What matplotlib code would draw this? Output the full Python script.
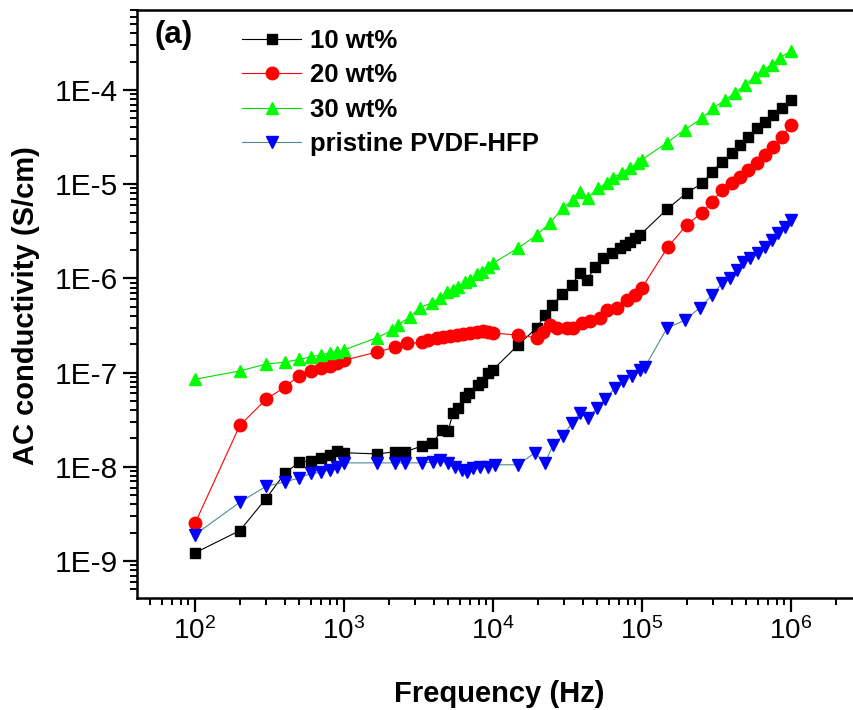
import math
import matplotlib
matplotlib.use("Agg")
import matplotlib.pyplot as plt
from matplotlib.ticker import LogLocator, FuncFormatter, NullFormatter

plt.rcParams['font.family'] = ['Liberation Sans', 'DejaVu Sans']
plt.rcParams['mathtext.fontset'] = 'custom'
plt.rcParams['mathtext.rm'] = 'Liberation Sans'
plt.rcParams['mathtext.it'] = 'Liberation Sans'

# ---------------- data ----------------
f_10 = [100, 200, 300, 400, 500, 600, 700, 800, 900, 1000, 1660, 2200, 2560, 3340, 3900,
        4550, 4990, 5390, 5830, 6490, 6900, 7930, 8440, 9250, 10000, 14700, 19700, 22300,
        24900, 29100, 33900, 38300, 42700, 48400, 54700, 62900, 71100, 76900, 83000, 89800,
        97000, 147000, 200000, 253000, 295000, 345000, 402000, 455000, 514000, 591000,
        670000, 757000, 870000, 1000000]
s_10 = [1.22e-9, 2.1e-9, 4.6e-9, 8.5e-9, 1.12e-8, 1.15e-8, 1.23e-8, 1.34e-8, 1.47e-8, 1.41e-8,
        1.37e-8, 1.44e-8, 1.44e-8, 1.66e-8, 1.77e-8, 2.44e-8, 2.39e-8, 3.7e-8, 4.2e-8, 5.5e-8,
        6.0e-8, 7.4e-8, 7.9e-8, 1.0e-7, 1.07e-7, 1.95e-7, 3.0e-7, 4.1e-7, 5.2e-7, 6.8e-7,
        8.5e-7, 1.15e-6, 9.6e-7, 1.32e-6, 1.66e-6, 1.86e-6, 2.09e-6, 2.24e-6, 2.45e-6, 2.69e-6,
        2.88e-6, 5.4e-6, 8.1e-6, 1.02e-5, 1.35e-5, 1.74e-5, 2.14e-5, 2.62e-5, 3.17e-5, 3.95e-5,
        4.57e-5, 5.4e-5, 6.4e-5, 7.8e-5]

f_20 = [100, 200, 300, 400, 500, 600, 700, 800, 900, 1000, 1660, 2200, 2650, 3340, 3660,
        4210, 4620, 5140, 5740, 6290, 7010, 7820, 8570, 9250, 10000, 14700, 19700, 21700,
        24200, 26900, 31400, 34400, 39600, 44800, 52300, 58200, 67900, 79300, 89800, 99800,
        149000, 200000, 253000, 295000, 345000, 402000, 455000, 514000, 591000, 670000,
        757000, 870000, 1000000]
s_20 = [2.5e-9, 2.75e-8, 5.2e-8, 7.0e-8, 9.3e-8, 1.05e-7, 1.12e-7, 1.18e-7, 1.26e-7, 1.35e-7,
        1.65e-7, 1.86e-7, 2.04e-7, 2.09e-7, 2.22e-7, 2.34e-7, 2.4e-7, 2.45e-7, 2.5e-7, 2.57e-7,
        2.63e-7, 2.69e-7, 2.75e-7, 2.69e-7, 2.63e-7, 2.5e-7, 2.34e-7, 2.69e-7, 3.2e-7, 3.0e-7,
        3.0e-7, 3.0e-7, 3.4e-7, 3.5e-7, 3.8e-7, 4.6e-7, 4.9e-7, 5.9e-7, 6.6e-7, 7.9e-7,
        2.15e-6, 3.7e-6, 5.0e-6, 6.5e-6, 8.7e-6, 1.02e-5, 1.2e-5, 1.41e-5, 1.69e-5, 2.04e-5,
        2.47e-5, 3.17e-5, 4.3e-5]

f_30 = [100, 200, 300, 400, 500, 600, 700, 800, 900, 1000, 1660, 2100, 2300, 2770, 3240,
        3900, 4410, 4910, 5390, 5830, 6490, 7010, 7820, 8440, 9250, 10000, 14700, 19700,
        24200, 29500, 34400, 38300, 43400, 50700, 58200, 63900, 73400, 83000, 94000, 100000,
        147000, 194000, 253000, 300000, 360000, 421000, 491000, 573000, 649000, 745000,
        844000, 1000000]
s_30 = [8.5e-8, 1.04e-7, 1.23e-7, 1.29e-7, 1.38e-7, 1.47e-7, 1.54e-7, 1.62e-7, 1.66e-7, 1.74e-7,
        2.34e-7, 2.8e-7, 3.2e-7, 3.9e-7, 4.9e-7, 5.5e-7, 6.2e-7, 7.1e-7, 7.6e-7, 8.1e-7,
        9.1e-7, 9.6e-7, 1.1e-6, 1.17e-6, 1.32e-6, 1.45e-6, 2.09e-6, 2.88e-6, 3.9e-6, 5.6e-6,
        6.8e-6, 8.3e-6, 7.2e-6, 9.1e-6, 1.02e-5, 1.17e-5, 1.32e-5, 1.48e-5, 1.69e-5, 1.82e-5,
        2.75e-5, 3.8e-5, 5.0e-5, 6.4e-5, 7.8e-5, 9.3e-5, 1.13e-4, 1.38e-4, 1.62e-4, 1.86e-4,
        2.19e-4, 2.6e-4]

f_pr = [100, 200, 300, 400, 500, 600, 700, 800, 900, 1000, 1660, 2200, 2560, 3340, 3950,
        4410, 4990, 5560, 6200, 6690, 7340, 8180, 9250, 10300, 14700, 19150, 22300, 25300,
        29500, 33900, 38300, 43400, 49900, 56400, 65900, 74500, 85700, 97000, 104800,
        147000, 194000, 245000, 295000, 345000, 390000, 434000, 477000, 531000, 601000,
        670000, 745000, 818000, 912000, 1000000]
s_pr = [1.9e-9, 4.2e-9, 6.2e-9, 6.9e-9, 7.6e-9, 8.5e-9, 8.7e-9, 9.3e-9, 1.0e-8, 1.1e-8,
        1.1e-8, 1.1e-8, 1.1e-8, 1.1e-8, 1.12e-8, 1.17e-8, 1.1e-8, 1.0e-8, 9.3e-9, 8.8e-9,
        9.7e-9, 1.0e-8, 1.0e-8, 1.05e-8, 1.05e-8, 1.41e-8, 1.1e-8, 1.7e-8, 2.14e-8, 2.9e-8,
        3.7e-8, 3.3e-8, 4.2e-8, 5.2e-8, 6.9e-8, 8.1e-8, 9.3e-8, 1.07e-7, 1.15e-7,
        2.95e-7, 3.6e-7, 4.9e-7, 6.6e-7, 8.9e-7, 1.0e-6, 1.23e-6, 1.48e-6, 1.65e-6, 1.87e-6,
        2.15e-6, 2.57e-6, 3.0e-6, 3.5e-6, 4.2e-6]

labels = ["10 wt%", "20 wt%", "30 wt%", "pristine PVDF-HFP"]

# ---------------- figure ----------------
W, H = 854, 710
fig = plt.figure(figsize=(W / 100, H / 100), dpi=100)
ax_l, ax_r, ax_t, ax_b = 137, 854, 10, 598
ax = fig.add_axes([ax_l / W, 1 - ax_b / H, (ax_r - ax_l) / W, (ax_b - ax_t) / H])

lw = 0.8
ax.plot(f_10, s_10, '-s', color='black', mfc='black', mec='black', ms=7.2, lw=lw, label=labels[0])
ax.plot(f_20, s_20, '-o', color='#ff0000', mfc='#ff0000', mec='#ff0000', ms=9.0, lw=lw, label=labels[1])
ax.plot(f_30, s_30, '-^', color='#00e000', mfc='#00ff00', mec='#00ff00', ms=9.0, lw=lw, label=labels[2])
ax.plot(f_pr, s_pr, '-v', color='#4f8a8f', mfc='#0000ff', mec='#0000ff', ms=9.0, lw=lw, label=labels[3])

ax.set_xscale('log')
ax.set_yscale('log')
ax.set_xlim(10 ** 1.611, 10 ** 6.423)
ax.set_ylim(10 ** -9.393, 10 ** -3.151)

ax.xaxis.set_major_locator(LogLocator(base=10, numticks=20))
ax.xaxis.set_minor_locator(LogLocator(base=10, subs=range(2, 10), numticks=20))
ax.yaxis.set_major_locator(LogLocator(base=10, numticks=20))
ax.yaxis.set_minor_locator(LogLocator(base=10, subs=range(2, 10), numticks=20))
ax.yaxis.set_major_formatter(FuncFormatter(lambda v, p: "1E%d" % round(math.log10(v))))
ax.xaxis.set_major_formatter(FuncFormatter(lambda v, p: r"$\mathregular{10^{%d}}$" % round(math.log10(v))))
ax.xaxis.set_minor_formatter(NullFormatter())
ax.yaxis.set_minor_formatter(NullFormatter())
ax.xaxis.get_offset_text().set_visible(False)
ax.yaxis.get_offset_text().set_visible(False)

ax.tick_params(which='major', direction='out', length=10, width=1.6, pad=4)
ax.tick_params(axis='y', which='major', labelsize=21.5)
ax.tick_params(axis='x', which='major', labelsize=20)
ax.tick_params(which='minor', direction='out', length=5, width=1.4)
ax.tick_params(top=False, right=False)

for s in ['left', 'bottom', 'top']:
    ax.spines[s].set_linewidth(1.8)
ax.spines['right'].set_visible(False)

ax.set_xlabel("Frequency (Hz)", fontsize=21, fontweight='bold')
ax.set_ylabel("AC conductivity (S/cm)", fontsize=21, fontweight='bold')
ax.xaxis.set_label_coords((499 - ax_l) / (ax_r - ax_l), (ax_b - 680) / (ax_b - ax_t))
ax.yaxis.set_label_coords((40 - ax_l) / (ax_r - ax_l), (ax_b - 306) / (ax_b - ax_t))

leg = ax.legend(loc='upper left', bbox_to_anchor=((242 - ax_l) / (ax_r - ax_l), (ax_b - 29) / (ax_b - ax_t)),
                frameon=False, prop={'size': 18.5, 'weight': 'bold'}, handlelength=2.3,
                handletextpad=0.35, labelspacing=0.40, borderpad=0, borderaxespad=0)

fig.text(155 / W, 1 - 35 / H, "(a)", fontsize=22.5, fontweight='bold', ha='left', va='center')

fig.savefig("out.png", dpi=100)
